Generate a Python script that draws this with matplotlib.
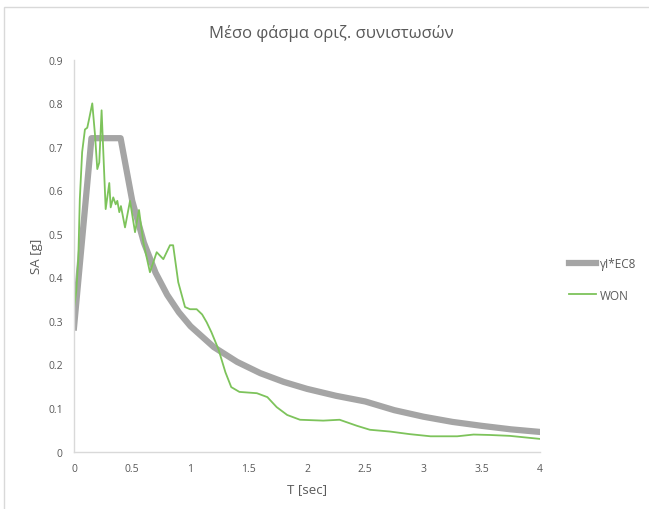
import matplotlib.pyplot as plt
from matplotlib.patches import Rectangle

# EC8 design spectrum (gray)
t_ec8 = [0.0, 0.15, 0.4, 0.5, 0.6, 0.7, 0.8, 0.9, 1.0, 1.2, 1.4, 1.6, 1.8, 2.0,
         2.25, 2.5, 2.75, 3.0, 3.25, 3.5, 3.75, 4.0]
sa_ec8 = [0.285, 0.72, 0.72, 0.576, 0.48, 0.411, 0.36, 0.32, 0.288, 0.24, 0.206,
          0.18, 0.16, 0.144, 0.128, 0.115, 0.095, 0.08, 0.068, 0.059, 0.051, 0.045]

# WON mean horizontal spectrum (green)
t_won = [0.0, 0.02, 0.037, 0.05, 0.07, 0.094, 0.114, 0.129, 0.157, 0.18, 0.2, 0.217,
         0.237, 0.272, 0.303, 0.315, 0.337, 0.358, 0.372, 0.389, 0.403, 0.438, 0.481,
         0.524, 0.558, 0.595, 0.652, 0.71, 0.767, 0.824, 0.851, 0.895, 0.953, 0.996,
         1.053, 1.1, 1.139, 1.18, 1.24, 1.30, 1.35, 1.42, 1.57, 1.66, 1.74, 1.83, 1.94,
         2.14, 2.28, 2.43, 2.54, 2.71, 2.88, 3.06, 3.29, 3.43, 3.57, 3.74, 4.0]
sa_won = [0.33, 0.37, 0.442, 0.58, 0.688, 0.74, 0.744, 0.763, 0.80, 0.729, 0.649, 0.664,
          0.784, 0.557, 0.617, 0.561, 0.584, 0.568, 0.576, 0.55, 0.564, 0.515, 0.576,
          0.504, 0.555, 0.481, 0.412, 0.458, 0.442, 0.474, 0.474, 0.389, 0.332, 0.327,
          0.327, 0.315, 0.297, 0.274, 0.235, 0.182, 0.148, 0.137, 0.134, 0.125, 0.102,
          0.084, 0.073, 0.071, 0.073, 0.059, 0.05, 0.046, 0.04, 0.035, 0.035, 0.039,
          0.038, 0.036, 0.029]

xticks = [0, 0.5, 1, 1.5, 2, 2.5, 3, 3.5, 4]
xticklabels = ['0', '0.5', '1', '1.5', '2', '2.5', '3', '3.5', '4']
yticks = [0, 0.1, 0.2, 0.3, 0.4, 0.5, 0.6, 0.7, 0.8, 0.9]
yticklabels = ['0', '0.1', '0.2', '0.3', '0.4', '0.5', '0.6', '0.7', '0.8', '0.9']

plt.rcParams['font.family'] = ['Open Sans', 'DejaVu Sans']
txt = '#595959'
axis_col = '#D9D9D9'

fig = plt.figure(figsize=(6.49, 5.10), dpi=100)
# chart area border (cut off at right and bottom like the screenshot)
fig.patches.append(Rectangle((4 / 649, -0.05), 1.1, 1 - 8 / 510 + 0.05,
                             transform=fig.transFigure, fill=False,
                             edgecolor=axis_col, linewidth=1))

ax = fig.add_axes([0.114, 0.1127, 0.718, 0.768])
ax.plot(t_ec8, sa_ec8, color='#A5A5A5', linewidth=4.5, label='γI*EC8',
        solid_joinstyle='round')
ax.plot(t_won, sa_won, color='#7DC35B', linewidth=1.3, label='WON')

ax.set_xlim(0, 4)
ax.set_ylim(0, 0.9)
ax.set_xticks(xticks)
ax.set_xticklabels(xticklabels)
ax.set_yticks(yticks)
ax.set_yticklabels(yticklabels)
ax.tick_params(length=0, labelsize=7.5, colors=txt, pad=8)

for side in ['top', 'right']:
    ax.spines[side].set_visible(False)
for side in ['left', 'bottom']:
    ax.spines[side].set_color(axis_col)
    ax.spines[side].set_linewidth(1)

ax.set_xlabel('T [sec]', fontsize=9.5, color=txt, labelpad=6)
ax.set_ylabel('SA [g]', fontsize=9.5, color=txt, labelpad=4)
fig.text(0.51, 1 - 33 / 510, 'Μέσο φάσμα οριζ. συνιστωσών', ha='center', va='center',
         fontsize=12, color=txt)

ax.legend(loc='center left', bbox_to_anchor=(1.04, 0.44), frameon=False,
          fontsize=8.5, labelcolor=txt, handlelength=2.3, handletextpad=0.3,
          labelspacing=1.6)

fig.savefig('out.png', dpi=100)
